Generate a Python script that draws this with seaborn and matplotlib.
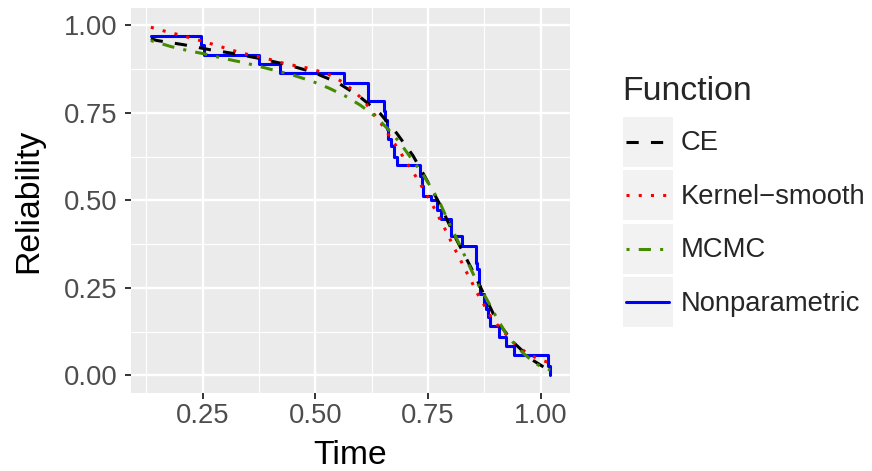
import pandas as pd
import matplotlib
matplotlib.use('Agg')
import matplotlib.pyplot as plt
import seaborn as sns
from matplotlib.legend_handler import HandlerLine2D
from matplotlib.lines import Line2D
from matplotlib.patches import Rectangle

# Nonparametric estimate (step function)
np_time = [0.135, 0.2455, 0.253, 0.376, 0.422, 0.564, 0.616, 0.653, 0.655, 0.658,
           0.661, 0.668, 0.674, 0.681, 0.733, 0.736, 0.738, 0.756, 0.769, 0.778,
           0.800, 0.826, 0.856, 0.859, 0.863, 0.866, 0.874, 0.878, 0.883, 0.888,
           0.907, 0.922, 0.941, 1.015, 1.021]
np_rel = [0.970, 0.943, 0.916, 0.889, 0.865, 0.837, 0.784, 0.757, 0.730, 0.703,
          0.676, 0.655, 0.625, 0.600, 0.570, 0.541, 0.514, 0.500, 0.473, 0.447,
          0.397, 0.371, 0.322, 0.303, 0.256, 0.232, 0.208, 0.190, 0.166, 0.142,
          0.109, 0.085, 0.057, 0.028, 0.000]

# CE estimate
ce_time = [0.135, 0.149, 0.208, 0.265, 0.323, 0.379, 0.437, 0.494, 0.549, 0.596,
           0.644, 0.681, 0.716, 0.743, 0.774, 0.811, 0.848, 0.901, 0.937, 0.98, 1.021]
ce_rel = [0.962, 0.957, 0.945, 0.931, 0.919, 0.905, 0.888, 0.867, 0.837, 0.799,
          0.748, 0.691, 0.629, 0.568, 0.494, 0.393, 0.301, 0.159, 0.097, 0.045, 0.012]

# Kernel-smooth estimate
ks_time = [0.135, 0.168, 0.196, 0.224, 0.253, 0.281, 0.309, 0.337, 0.366, 0.394,
           0.423, 0.452, 0.480, 0.509, 0.537, 0.562, 0.585, 0.606, 0.624, 0.642,
           0.658, 0.674, 0.690, 0.706, 0.722, 0.737, 0.752, 0.766, 0.779, 0.793,
           0.805, 0.819, 0.831, 0.845, 0.858, 0.873, 0.887, 0.905, 0.925, 0.945,
           0.969, 0.994, 1.021]
ks_rel = [0.995, 0.983, 0.974, 0.964, 0.954, 0.943, 0.932, 0.921, 0.913, 0.905,
          0.894, 0.886, 0.879, 0.869, 0.856, 0.837, 0.813, 0.787, 0.757, 0.727,
          0.696, 0.666, 0.634, 0.601, 0.570, 0.538, 0.506, 0.472, 0.439, 0.405,
          0.371, 0.338, 0.305, 0.272, 0.237, 0.204, 0.172, 0.142, 0.114, 0.087,
          0.064, 0.047, 0.035]

# MCMC estimate
mcmc_time = [0.135, 0.179, 0.218, 0.257, 0.296, 0.337, 0.376, 0.415, 0.453, 0.492,
             0.530, 0.567, 0.600, 0.633, 0.661, 0.687, 0.711, 0.738, 0.756, 0.776,
             0.793, 0.816, 0.846, 0.862, 0.880, 0.900, 0.925, 0.945, 0.963, 0.989,
             1.008, 1.021]
mcmc_rel = [0.957, 0.940, 0.928, 0.918, 0.906, 0.895, 0.883, 0.870, 0.857, 0.841,
            0.821, 0.798, 0.772, 0.740, 0.704, 0.666, 0.623, 0.576, 0.538, 0.494,
            0.445, 0.384, 0.301, 0.258, 0.218, 0.170, 0.114, 0.085, 0.061, 0.033,
            0.021, 0.015]

functions = ['CE', 'Kernel\u2212smooth', 'MCMC', 'Nonparametric']
x_ticks = [0.25, 0.50, 0.75, 1.00]
y_ticks = [0.00, 0.25, 0.50, 0.75, 1.00]

df = pd.concat([
    pd.DataFrame({'Time': ce_time, 'Reliability': ce_rel, 'Function': functions[0]}),
    pd.DataFrame({'Time': ks_time, 'Reliability': ks_rel, 'Function': functions[1]}),
    pd.DataFrame({'Time': mcmc_time, 'Reliability': mcmc_rel, 'Function': functions[2]}),
    pd.DataFrame({'Time': np_time, 'Reliability': np_rel, 'Function': functions[3]}),
])

line_styles = {
    'CE': ('black', (0, (4, 4))),
    'Kernel\u2212smooth': ('#FF0000', (0, (1, 3))),
    'MCMC': ('#458B00', (0, (1, 3, 4, 3))),
    'Nonparametric': ('#0000FF', '-'),
}

sns.set_theme(style='darkgrid', rc={
    'axes.facecolor': '#EBEBEB',
    'grid.color': 'white',
    'axes.edgecolor': 'none',
})
plt.rcParams['font.family'] = ['Liberation Sans', 'DejaVu Sans']

fig = plt.figure(figsize=(8.72, 4.71), dpi=100)
ax = fig.add_axes([0.150, 0.166, 0.504, 0.817])

# step function first, smooth curves on top
for name in ['Nonparametric', 'CE', 'Kernel\u2212smooth', 'MCMC']:
    sub = df[df['Function'] == name]
    color, ls = line_styles[name]
    kw = {'drawstyle': 'steps-post'} if name == 'Nonparametric' else {}
    sns.lineplot(data=sub, x='Time', y='Reliability', ax=ax, color=color,
                 linestyle=ls, linewidth=2.2, estimator=None, sort=False,
                 legend=False, label=name, **kw)

ax.set_xlim(0.0905, 1.0655)
ax.set_ylim(-0.05, 1.05)
ax.set_xticks(x_ticks)
ax.set_xticklabels([f'{v:.2f}' for v in x_ticks])
ax.set_yticks(y_ticks)
ax.set_yticklabels([f'{v:.2f}' for v in y_ticks])
ax.set_xticks([0.125, 0.375, 0.625, 0.875], minor=True)
ax.set_yticks([0.125, 0.375, 0.625, 0.875], minor=True)
ax.grid(which='major', color='white', linewidth=1.7)
ax.grid(which='minor', color='white', linewidth=0.8)
ax.tick_params(which='major', direction='out', length=4.3, width=1.4, color='#333333',
               labelsize=19.7, labelcolor='#4D4D4D', bottom=True, left=True)
ax.tick_params(axis='x', which='major', pad=3)
ax.tick_params(axis='y', which='major', pad=5.5)
ax.tick_params(which='minor', length=0)
for s in ax.spines.values():
    s.set_visible(False)

ax.set_xlabel('Time', fontsize=24.3, color='black', labelpad=8)
ax.set_ylabel('Reliability', fontsize=24.3, color='black', labelpad=14)


class KeyHandler(HandlerLine2D):
    def create_artists(self, legend, orig_handle, xdescent, ydescent,
                       width, height, fontsize, trans):
        bg = Rectangle((-xdescent, -ydescent), width, height,
                       facecolor='#F2F2F2', edgecolor='none', transform=trans)
        y = -ydescent + height / 2
        ln = Line2D([-xdescent + 0.07 * width, -xdescent + 0.93 * width], [y, y])
        self.update_prop(ln, orig_handle, legend)
        ln.set_drawstyle('default')
        ln.set_transform(trans)
        return [bg, ln]


by_label = {l.get_label(): l for l in ax.lines}
handles = [by_label[f] for f in functions]
fig.text(622.7 / 872, 1 - 100 / 471, 'Function', fontsize=24.3, va='baseline', ha='left')
fig.legend(handles, functions, loc='upper left', bbox_to_anchor=(622.7 / 872, 1 - 117 / 471),
           frameon=False, borderpad=0, borderaxespad=0, fontsize=19.7,
           handlelength=1.825, handleheight=2.43, handletextpad=0.29,
           labelspacing=0.13, handler_map={Line2D: KeyHandler()})

plt.savefig('out.png', dpi=100)
